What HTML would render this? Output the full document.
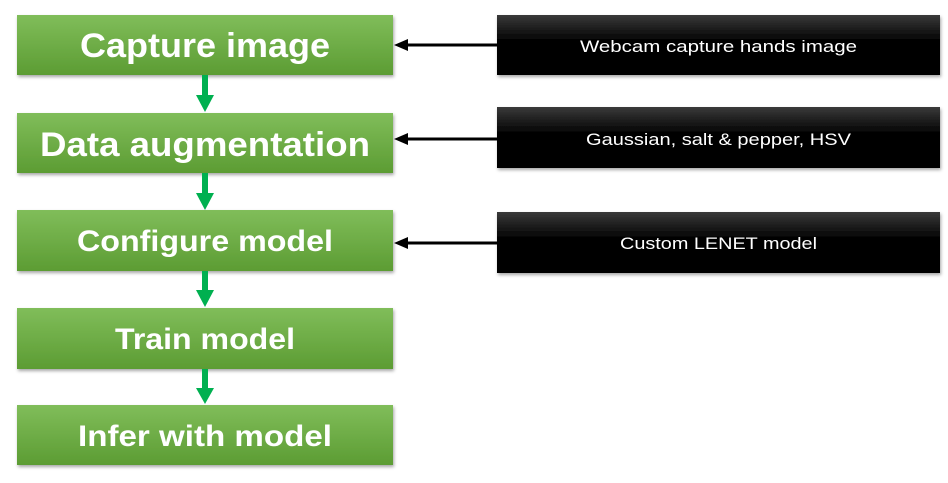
<!DOCTYPE html>
<html><head><meta charset="utf-8"><style>html,body{margin:0;padding:0;background:#fff}svg{display:block}</style></head>
<body>
<svg width="948" height="483" xmlns="http://www.w3.org/2000/svg">
<defs>
<linearGradient id="g" x1="0" y1="0" x2="0" y2="1"><stop offset="0" stop-color="#80bd5a"/><stop offset="1" stop-color="#5c9c33"/></linearGradient>
<linearGradient id="k" x1="0" y1="0" x2="0" y2="1"><stop offset="0" stop-color="#3a3a3a"/><stop offset="0.45" stop-color="#000"/><stop offset="1" stop-color="#000"/></linearGradient>
<filter id="s" x="-5%" y="-10%" width="110%" height="130%"><feDropShadow dx="1" dy="2" stdDeviation="1.5" flood-color="#000" flood-opacity="0.35"/></filter>
</defs>
<g filter="url(#s)">
<rect x="17" y="15" width="376" height="60" fill="url(#g)"/>
<rect x="17" y="113" width="376" height="60" fill="url(#g)"/>
<rect x="17" y="210" width="376" height="61" fill="url(#g)"/>
<rect x="17" y="308" width="376" height="61" fill="url(#g)"/>
<rect x="17" y="405" width="376" height="60" fill="url(#g)"/>
<rect x="497" y="15" width="443" height="60" fill="url(#k)"/>
<rect x="497" y="107" width="443" height="61" fill="url(#k)"/>
<rect x="497" y="212" width="443" height="61" fill="url(#k)"/>
</g>
<g fill="#fff" font-family="Liberation Sans, sans-serif" font-weight="bold">
<text x="80" y="57" font-size="34" textLength="250" lengthAdjust="spacingAndGlyphs">Capture image</text>
<text x="40" y="156" font-size="34" textLength="330" lengthAdjust="spacingAndGlyphs">Data augmentation</text>
<text x="77" y="251" font-size="30" textLength="256" lengthAdjust="spacingAndGlyphs">Configure model</text>
<text x="115" y="349" font-size="30" textLength="180" lengthAdjust="spacingAndGlyphs">Train model</text>
<text x="78" y="446" font-size="30" textLength="254" lengthAdjust="spacingAndGlyphs">Infer with model</text>
</g>
<g fill="#fff" font-family="Liberation Sans, sans-serif" font-size="17">
<text x="580" y="52" textLength="277" lengthAdjust="spacingAndGlyphs">Webcam capture hands image</text>
<text x="586" y="145" textLength="265" lengthAdjust="spacingAndGlyphs">Gaussian, salt &amp; pepper, HSV</text>
<text x="620" y="249" textLength="197" lengthAdjust="spacingAndGlyphs">Custom LENET model</text>
</g>
<g stroke="#000" stroke-width="3">
<line x1="405" y1="45" x2="497" y2="45"/>
<line x1="405" y1="139" x2="497" y2="139"/>
<line x1="405" y1="243" x2="497" y2="243"/>
</g>
<g fill="#000">
<polygon points="394,45 408,39 408,51"/>
<polygon points="394,139 408,133 408,145"/>
<polygon points="394,243 408,237 408,249"/>
</g>
<g fill="#00b050">
<path d="M202,75h6v20h6l-9,17l-9,-17h6z"/>
<path d="M202,173h6v20h6l-9,17l-9,-17h6z"/>
<path d="M202,271h6v19h6l-9,17l-9,-17h6z"/>
<path d="M202,369h6v19h6l-9,16l-9,-16h6z"/>
</g>
</svg>
</body></html>
